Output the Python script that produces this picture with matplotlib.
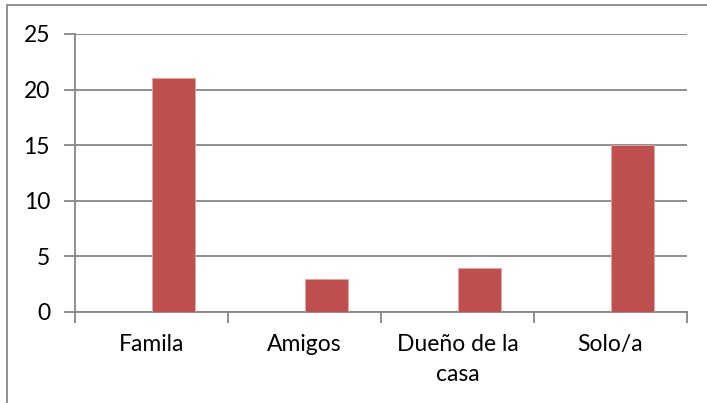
import matplotlib.pyplot as plt
from matplotlib.patches import Rectangle

categorias = ['Famila', 'Amigos', 'Dueño de la\ncasa', 'Solo/a']
valores = [21, 3, 4, 15]
yticks = [0, 5, 10, 15, 20, 25]

plt.rcParams['font.family'] = ['Lato', 'DejaVu Sans']

fig = plt.figure(figsize=(7.07, 4.03), dpi=100)
# marco del gráfico
fig.patches.append(Rectangle((7 / 707, -0.1), 1.2, (403 - 5) / 403 + 0.1,
                             transform=fig.transFigure, fill=False,
                             edgecolor='#888888', linewidth=1.3))

ax = fig.add_axes([75 / 707, 1 - 312 / 403, (687 - 75) / 707, (312 - 34) / 403])
x = range(len(categorias))
ax.bar([i + 0.144 for i in x], valores, width=0.28, color='#C0504D',
       edgecolor='#E6A6A4', linewidth=0.6, zorder=3)

ax.set_xlim(-0.5, len(categorias) - 0.5)
ax.set_ylim(0, 25)
ax.set_yticks(yticks)
ax.set_xticks([i - 0.5 for i in range(len(categorias) + 1)], minor=False)
ax.set_xticklabels([])
ax.set_xticks(list(x), minor=True)
ax.set_xticklabels(categorias, minor=True, fontsize=16.5, linespacing=1.5)
ax.tick_params(axis='x', which='minor', length=0, pad=16)
ax.tick_params(axis='x', which='major', length=8, width=1.3, color='#868686')
ax.tick_params(axis='y', length=8, width=1.3, color='#868686', labelsize=16.5, pad=10)
ax.grid(axis='y', color='#868686', linewidth=1.3, zorder=0)

for s in ['top', 'right']:
    ax.spines[s].set_visible(False)
for s in ['left', 'bottom']:
    ax.spines[s].set_color('#868686')
    ax.spines[s].set_linewidth(1.3)

fig.savefig('out.png', dpi=100)
